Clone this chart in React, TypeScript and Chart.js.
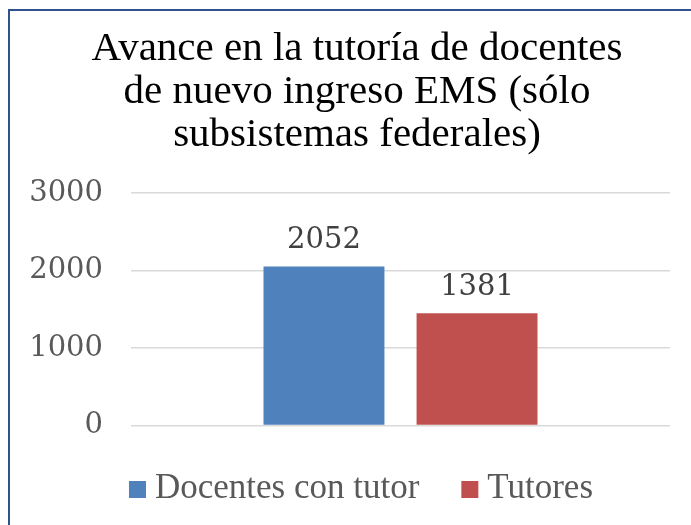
import React, { useEffect, useRef } from "react";
import { Chart, registerables } from "chart.js";

Chart.register(...registerables);

const categories: string[] = [""];
const seriesNames: string[] = ["Docentes con tutor", "Tutores"];
const docentesValues: number[] = [2052];
const tutoresValues: number[] = [1450];
const valueLabels: string[][] = [["2052"], ["1381"]];
const yTicks: number[] = [0, 1000, 2000, 3000];
const seriesColors: string[] = ["#4F81BD", "#C0504D"];

const titleLines: string[] = [
  "Avance en la tutoría de docentes",
  "de nuevo ingreso EMS (sólo",
  "subsistemas federales)",
];

const SERIF = '"Liberation Serif", "Times New Roman", serif';
const DIGIT_SERIF = '"DejaVu Serif", serif';

const dataLabelPlugin = {
  id: "dataLabels",
  afterDatasetsDraw(chart: any) {
    const ctx = chart.ctx;
    ctx.save();
    ctx.font = `29px ${DIGIT_SERIF}`;
    ctx.fillStyle = "#404040";
    ctx.textAlign = "center";
    ctx.textBaseline = "alphabetic";
    chart.data.datasets.forEach((ds: any, di: number) => {
      const meta = chart.getDatasetMeta(di);
      meta.data.forEach((el: any, i: number) => {
        const txt = valueLabels[di]?.[i] ?? String(ds.data[i]);
        ctx.fillText(txt, el.x, el.y - 18);
      });
    });
    ctx.restore();
  },
};

const legendPlugin = {
  id: "customLegend",
  afterDraw(chart: any) {
    const ctx = chart.ctx;
    ctx.save();
    ctx.font = `35px ${SERIF}`;
    const box = 17;
    const gapText = 9;
    const gapItem = 42;
    const items = chart.data.datasets.map((ds: any) => ({
      text: ds.label as string,
      color: ds.backgroundColor as string,
      w: ctx.measureText(ds.label).width,
    }));
    const total =
      items.reduce((s: number, it: any) => s + box + gapText + it.w, 0) +
      gapItem * (items.length - 1);
    let x = chart.width / 2 + 4 - total / 2;
    const boxTop = 470;
    const baseline = 487;
    items.forEach((it: any) => {
      ctx.fillStyle = it.color;
      ctx.fillRect(x, boxTop, box, box);
      x += box + gapText;
      ctx.fillStyle = "#595959";
      ctx.textAlign = "left";
      ctx.textBaseline = "alphabetic";
      ctx.fillText(it.text, x, baseline);
      x += it.w + gapItem;
    });
    ctx.restore();
  },
};

export default function App() {
  const canvasRef = useRef<HTMLCanvasElement | null>(null);

  useEffect(() => {
    if (!canvasRef.current) return;
    const chart = new Chart(canvasRef.current, {
      type: "bar",
      data: {
        labels: categories,
        datasets: [
          {
            label: seriesNames[0],
            data: docentesValues,
            backgroundColor: seriesColors[0],
            categoryPercentage: 0.568,
            barPercentage: 0.79,
          },
          {
            label: seriesNames[1],
            data: tutoresValues,
            backgroundColor: seriesColors[1],
            categoryPercentage: 0.568,
            barPercentage: 0.79,
          },
        ],
      },
      options: {
        responsive: false,
        maintainAspectRatio: false,
        animation: false,
        devicePixelRatio: 1,
        layout: { padding: { left: 0, right: 0, top: 0, bottom: 109.5 } },
        plugins: {
          legend: { display: false },
          tooltip: { enabled: false },
          title: {
            display: true,
            text: titleLines,
            color: "#000000",
            font: { family: SERIF, size: 41, weight: "normal", lineHeight: "43px" },
            padding: { top: 17, bottom: 36 },
          },
        },
        scales: {
          x: {
            display: false,
          },
          y: {
            min: yTicks[0],
            max: yTicks[yTicks.length - 1],
            afterBuildTicks: (scale: any) => {
              scale.ticks = yTicks.map((v) => ({ value: v }));
            },
            afterFit: (scale: any) => {
              scale.width = 121;
            },
            border: { display: false },
            grid: {
              color: "#D9D9D9",
              lineWidth: 1.5,
              drawTicks: false,
            },
            ticks: {
              font: { family: DIGIT_SERIF, size: 29 },
              color: "#595959",
              padding: 28,
              callback: (v: any) => String(v),
            },
          },
          yRight: {
            type: "linear",
            position: "right",
            display: true,
            min: yTicks[0],
            max: yTicks[yTicks.length - 1],
            afterFit: (scale: any) => {
              scale.width = 34;
            },
            border: { display: false },
            grid: { display: false, drawTicks: false },
            ticks: { display: false },
          },
        },
      },
      plugins: [dataLabelPlugin, legendPlugin],
    });
    return () => chart.destroy();
  }, []);

  return (
    <div
      style={{
        position: "fixed",
        left: 8,
        top: 9,
        width: 683,
        height: 516,
        overflow: "hidden",
        borderTop: "2px solid #2F528F",
        borderLeft: "2px solid #2F528F",
        boxSizing: "border-box",
        background: "#FFFFFF",
      }}
    >
      <canvas ref={canvasRef} width={694} height={524} style={{ display: "block" }} />
    </div>
  );
}
